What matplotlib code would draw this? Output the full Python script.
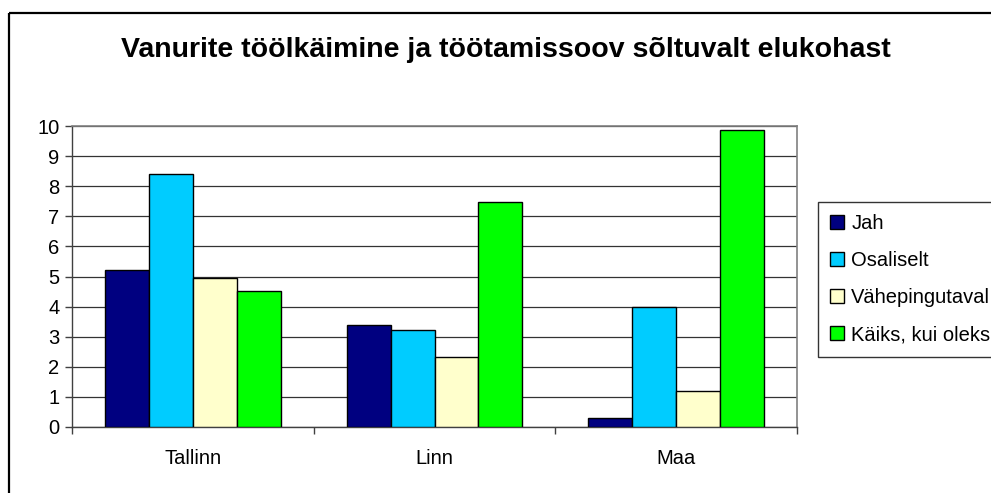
import numpy as np
import matplotlib
matplotlib.use('Agg')
import matplotlib.pyplot as plt
from matplotlib.patches import Rectangle
from matplotlib.ticker import FixedLocator

# Andmed
categories = ['Tallinn', 'Linn', 'Maa']
series_names = ['Jah', 'Osaliselt', 'Vähepingutaval', 'Käiks, kui oleks']
jah = [5.22, 3.40, 0.30]
osaliselt = [8.39, 3.21, 3.98]
vahepingutaval = [4.96, 2.31, 1.21]
kaiks = [4.51, 7.48, 9.86]
y_ticks = list(range(0, 11))

colors = ['#000080', '#00CCFF', '#FFFFCC', '#00FF00']

FS = 14.5
plt.rcParams.update({'font.family': ['Liberation Sans', 'DejaVu Sans'], 'font.size': FS})

W, H = 991, 493
fig = plt.figure(figsize=(W / 100, H / 100), dpi=100)
fig.patch.set_facecolor('white')

# Valine raam (paremalt ja alt pildist valja)
fig.patches.append(Rectangle((9 / W, 1 - 13 / H), 2, -2, transform=fig.transFigure,
                             fill=False, edgecolor='black', lw=1.6, clip_on=False))

left, right, top, bottom = 72, 797, 126, 427
ax = fig.add_axes([left / W, 1 - bottom / H, (right - left) / W, (bottom - top) / H])

x = np.arange(len(categories))
w = 1 / 5.5
all_series = [jah, osaliselt, vahepingutaval, kaiks]
for i, (vals, name) in enumerate(zip(all_series, series_names)):
    ax.bar(x + (i - 1.5) * w, vals, w, color=colors[i], edgecolor='black', lw=1.0,
           label=name, zorder=3)

ax.set_xlim(-0.5, 2.5)
ax.set_ylim(0, 10)
ax.set_yticks(y_ticks)
ax.yaxis.grid(True, color='#333333', lw=0.9, zorder=0)
ax.set_axisbelow(True)

ax.set_xticks(x)
ax.set_xticklabels(categories)
ax.xaxis.set_minor_locator(FixedLocator([-0.5, 0.5, 1.5, 2.5]))
ax.tick_params(axis='x', which='major', length=0, pad=16, labelsize=FS)
ax.tick_params(axis='x', which='minor', length=5, width=1, color='#404040')
ax.tick_params(axis='y', length=5, width=1, color='#404040', pad=4, labelsize=FS)

for s in ['top', 'right']:
    ax.spines[s].set_color('#808080')
    ax.spines[s].set_linewidth(1.2)
for s in ['left', 'bottom']:
    ax.spines[s].set_color('#404040')
    ax.spines[s].set_linewidth(1.0)

fig.text(506 / W, 1 - 50 / H, 'Vanurite töölkäimine ja töötamissoov sõltuvalt elukohast',
         ha='center', va='center', fontsize=20.5, fontweight='bold')

leg = ax.legend(loc='upper left', bbox_to_anchor=(818 / W, 1 - 202 / H),
                bbox_transform=fig.transFigure, frameon=True, fancybox=False,
                edgecolor='black', fontsize=FS, handlelength=0.7, handleheight=0.7,
                handletextpad=0.35, labelspacing=0.9, borderpad=0.6, borderaxespad=0)
leg.get_frame().set_linewidth(1.0)

fig.savefig('out.png', dpi=100)
